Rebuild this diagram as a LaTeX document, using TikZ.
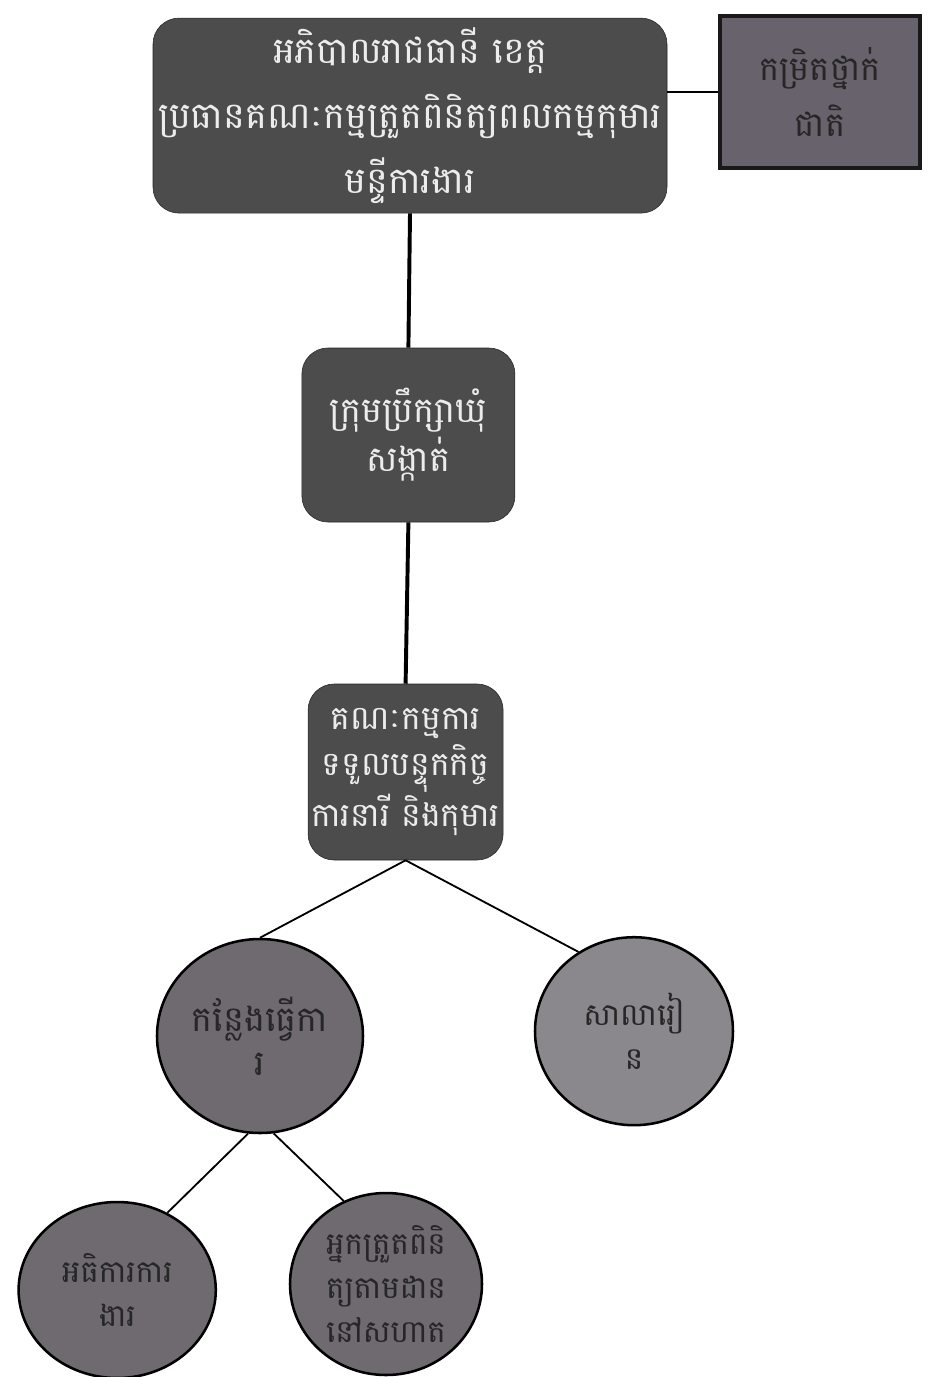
\documentclass[tikz,border=0pt]{standalone}
\usepackage{fontspec}
\newfontfamily\khmer[Script=Khmer]{Battambang}
\usetikzlibrary{shapes.geometric}
\definecolor{boxgray}{RGB}{76,76,76}
\definecolor{nationgray}{RGB}{104,98,108}
\definecolor{discgray}{RGB}{110,106,112}
\definecolor{palegray}{RGB}{236,236,236}

\begin{document}
\begin{tikzpicture}[
  darkbox/.style={draw=black!85,fill=boxgray,rounded corners=0.65cm,text=palegray,align=center,inner sep=0pt},
  disc/.style={ellipse,draw=black,line width=1.8pt,fill=discgray,text=black!85,align=center,inner sep=0pt,
    font=\khmer\fontsize{22}{31}\selectfont},
  link/.style={line width=2.8pt},
  thinlink/.style={line width=1.3pt}]
  \useasboundingbox (0,0) rectangle (23.2,-34.425);
  % top level
  \node[darkbox,minimum width=12.85cm,minimum height=4.875cm,font=\khmer\fontsize{26}{46}\selectfont] (city) at (10.25,-2.89)
    {អភិបាលរាជធានី ខេត្ត\\ប្រធានគណៈកម្មត្រួតពិនិត្យពលកម្មកុមារ\\មន្ទីការងារ};
  \node[draw=black!90,line width=3pt,fill=nationgray,text=black!85,align=center,minimum width=5.0cm,minimum height=3.8cm,
    font=\khmer\fontsize{24}{40}\selectfont] (nation) at (20.5,-2.3) {កម្រិតថ្នាក់\\ជាតិ};
  \node[darkbox,minimum width=5.325cm,minimum height=4.35cm,font=\khmer\fontsize{25}{35}\selectfont] (council) at (10.21,-10.875)
    {ក្រុមប្រឹក្សាឃុំ\\សង្កាត់};
  \node[darkbox,minimum width=4.875cm,minimum height=4.4cm,font=\khmer\fontsize{23.5}{33}\selectfont] (committee) at (10.14,-19.3)
    {គណៈកម្មការ\\ទទួលបន្ទុកកិច្ច\\ការនារី និងកុមារ};
  % circles
  \node[disc,minimum width=5.15cm,minimum height=4.85cm,font=\khmer\fontsize{25}{31}\selectfont] (work) at (6.5,-25.9) {កន្លែងធ្វើកា\\រ};
  \node[disc,minimum width=4.95cm,minimum height=4.7cm,fill=discgray!80!white] (school) at (15.85,-25.78) {សាលារៀ\\ន};
  \node[disc,minimum width=4.93cm,minimum height=4.4cm] (inspect) at (2.93,-32.25) {អធិការការ\\ងារ};
  \node[disc,minimum width=4.8cm,minimum height=4.55cm] (monitor) at (9.65,-32.1) {អ្នកត្រួតពិនិ\\ត្យតាមដាន\\នៅសហាត};
  % connectors
  \draw[thinlink] (nation.west) -- (nation.west -| city.east);
  \draw[link] (city.south) -- (council.north);
  \draw[link] (council.south) -- (committee.north);
  \draw[thinlink] (committee.south) -- (work.north);
  \draw[thinlink] (committee.south) -- (school.125);
  \draw[thinlink] (work.-97) -- (inspect.57);
  \draw[thinlink] (work.-82) -- (monitor.117);
\end{tikzpicture}
\end{document}
